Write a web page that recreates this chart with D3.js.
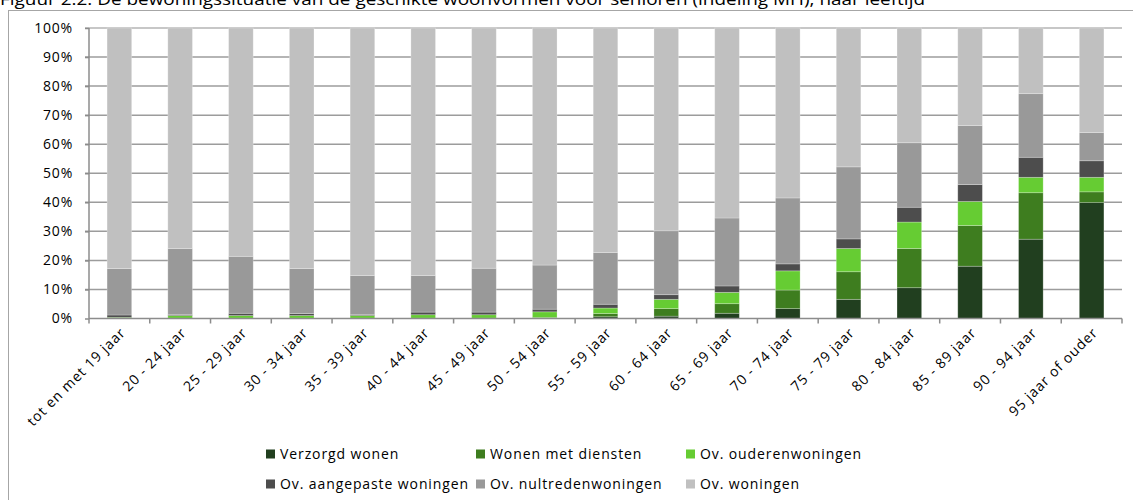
<!DOCTYPE html>
<html>
<head>
<meta charset="utf-8">
<style>
    html, body { margin: 0; padding: 0; background: #fff; }
    svg { display: block; font-family: "Open Sans", "DejaVu Sans", sans-serif; }
    .y_axis text, .x_label, .legend text { fill: #000; }
</style>
</head>
<body>
<svg width="1133" height="500"></svg>
<script src="https://cdn.jsdelivr.net/npm/d3@7/dist/d3.min.js"></script>
<script>

    var categories = ["tot en met 19 jaar", "20 - 24 jaar", "25 - 29 jaar", "30 - 34 jaar", "35 - 39 jaar",
        "40 - 44 jaar", "45 - 49 jaar", "50 - 54 jaar", "55 - 59 jaar", "60 - 64 jaar", "65 - 69 jaar",
        "70 - 74 jaar", "75 - 79 jaar", "80 - 84 jaar", "85 - 89 jaar", "90 - 94 jaar", "95 jaar of ouder"];

    var seriesNames = ["Verzorgd wonen", "Wonen met diensten", "Ov. ouderenwoningen",
        "Ov. aangepaste woningen", "Ov. nultredenwoningen", "Ov. woningen"];

    // shares in %, per age group
    var verzorgd   = [0, 0, 0, 0, 0, 0, 0, 0.1, 0.6, 0.8, 1.8, 3.4, 6.6, 10.6, 18.0, 27.3, 39.9];
    var diensten   = [0, 0.1, 0.1, 0.1, 0.1, 0.1, 0.1, 0.2, 1.1, 2.6, 3.3, 6.4, 9.5, 13.5, 14.0, 16.0, 3.7];
    var ouderen    = [0.4, 0.9, 0.9, 0.9, 0.9, 1.2, 1.2, 2.0, 1.9, 3.2, 3.9, 6.6, 8.0, 9.1, 8.3, 5.3, 5.0];
    var aangepast  = [0.8, 0.3, 0.8, 0.7, 0.3, 0.9, 0.9, 0.9, 1.3, 1.6, 2.2, 2.4, 3.3, 5.1, 5.8, 6.9, 5.7];
    var nultreden  = [16.0, 22.8, 19.6, 15.5, 13.5, 12.6, 15.1, 15.2, 17.8, 22.0, 23.4, 22.7, 24.8, 22.2, 20.3, 21.9, 9.7];
    var woningen   = [82.8, 75.9, 78.6, 82.8, 85.2, 85.2, 82.7, 81.6, 77.3, 69.8, 65.4, 58.5, 47.8, 39.5, 33.6, 22.6, 36.0];

    var yTicks = [0, 10, 20, 30, 40, 50, 60, 70, 80, 90, 100];

    var colors = ["#213f1f", "#3e7d1f", "#66cc33", "#4d4d4d", "#999999", "#c0c0c0"];

    var title = "Figuur 2.2: De bewoningssituatie van de geschikte woonvormen voor senioren (indeling MH), naar leeftijd";

    var svg = d3.select("svg");

    // outer frame (only left and top visible)
    svg.append("rect")
        .attr("x", 8.5).attr("y", 10.5)
        .attr("width", 1200).attr("height", 600)
        .attr("fill", "none")
        .attr("stroke", "#a6a6a6");

    svg.append("text")
        .attr("x", 0).attr("y", 5)
        .attr("font-size", 16)
        .attr("textLength", 925)
        .attr("lengthAdjust", "spacingAndGlyphs")
        .text(title);

    var plotL = 89, plotR = 1122, plotT = 28, plotB = 318.5;

    var table = categories.map(function(c, i) {
        return {cat: c, s0: verzorgd[i], s1: diensten[i], s2: ouderen[i],
                s3: aangepast[i], s4: nultreden[i], s5: woningen[i]};
    });

    var x = d3.scaleBand()
        .domain(categories)
        .range([plotL, plotR])
        .paddingInner(0.595)
        .paddingOuter(0.2975);

    var y = d3.scaleLinear()
        .domain([0, 100])
        .range([plotB, plotT]);

    // gridlines
    svg.append("g").attr("class", "grid")
        .selectAll("line")
        .data(yTicks.filter(function(d) { return d > 0; }))
        .enter().append("line")
        .attr("x1", plotL - 4).attr("x2", plotR)
        .attr("y1", function(d) { return y(d); })
        .attr("y2", function(d) { return y(d); })
        .attr("stroke", function(d) { return d == 100 ? "#b4b4b4" : "#9c9c9c"; })
        .attr("stroke-width", 1.5);

    var stack = d3.stack().keys(["s0", "s1", "s2", "s3", "s4", "s5"]);
    var layers = stack(table);

    svg.append("g").attr("class", "bars")
        .selectAll("g")
        .data(layers)
        .enter().append("g")
        .attr("fill", function(d, i) { return colors[i]; })
        .selectAll("rect")
        .data(function(d) { return d; })
        .enter().append("rect")
        .attr("x", function(d) { return x(d.data.cat); })
        .attr("width", x.bandwidth())
        .attr("y", function(d) { return y(d[1]); })
        .attr("height", function(d) { return y(d[0]) - y(d[1]); })
        .attr("stroke", "rgba(255,255,255,0.3)")
        .attr("stroke-width", 0.8);

    // y axis
    var aixL = svg.append("g")
        .attr("class", "y_axis")
        .attr("transform", "translate(" + plotL + ",0)")
        .call(d3.axisLeft(y).tickValues(yTicks).tickSize(4).tickPadding(12)
            .tickFormat(function(d) { return d + "%"; }));
    aixL.select(".domain").attr("stroke", "#8c8c8c").attr("stroke-width", 1.5)
        .attr("d", "M0," + plotB + "V" + plotT);
    aixL.selectAll("line").attr("stroke", "#8c8c8c").attr("stroke-width", 1.5);
    aixL.selectAll("text")
        .attr("font-family", "Open Sans")
        .attr("font-size", 14)
        .attr("letter-spacing", 0.8);

    // x axis line with ticks at band boundaries
    var xa = svg.append("g").attr("class", "x_axis");
    xa.append("line")
        .attr("x1", plotL).attr("x2", plotR)
        .attr("y1", plotB).attr("y2", plotB)
        .attr("stroke", "#8c8c8c").attr("stroke-width", 1.5);
    xa.selectAll(".tk")
        .data(d3.range(categories.length + 1))
        .enter().append("line")
        .attr("class", "tk")
        .attr("x1", function(i) { return plotL + i * x.step(); })
        .attr("x2", function(i) { return plotL + i * x.step(); })
        .attr("y1", plotB).attr("y2", plotB + 5)
        .attr("stroke", "#8c8c8c").attr("stroke-width", 1.5);

    xa.selectAll(".x_label")
        .data(categories)
        .enter().append("text")
        .attr("class", "x_label")
        .attr("font-size", 14)
        .attr("letter-spacing", 0.9)
        .attr("text-anchor", "end")
        .attr("transform", function(d) {
            return "translate(" + (x(d) + x.bandwidth() / 2 + 7) + "," + (plotB + 15) + ") rotate(-45)";
        })
        .text(function(d) { return d; });

    // legend
    var legendPos = [[266, 454], [476, 454], [686, 454], [266, 484], [476, 484], [686, 484]];
    var lg = svg.append("g").attr("class", "legend")
        .selectAll("g")
        .data(seriesNames)
        .enter().append("g")
        .attr("transform", function(d, i) { return "translate(" + legendPos[i][0] + "," + legendPos[i][1] + ")"; });
    lg.append("rect")
        .attr("x", 0).attr("y", -4.5)
        .attr("width", 9).attr("height", 9)
        .attr("fill", function(d, i) { return colors[i]; });
    lg.append("text")
        .attr("x", 14).attr("y", 5)
        .attr("font-size", 14)
        .attr("letter-spacing", 0.9)
        .text(function(d) { return d; });

</script>
</body>
</html>
